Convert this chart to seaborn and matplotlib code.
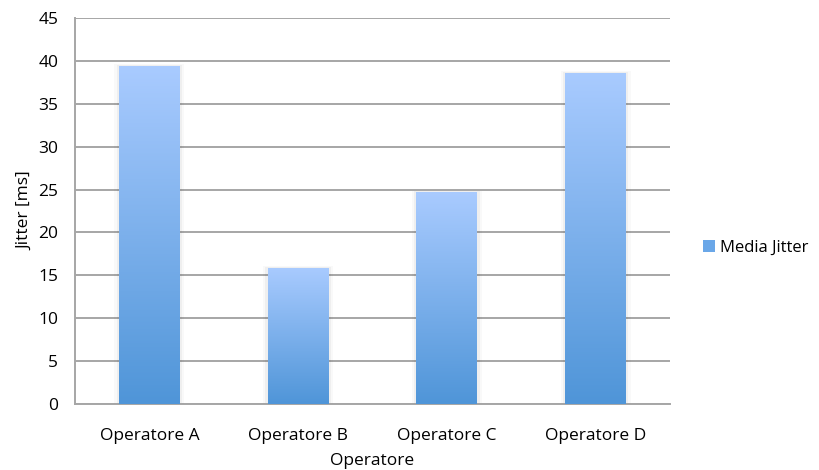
import numpy as np
import pandas as pd
import matplotlib
matplotlib.use("Agg")
import matplotlib.pyplot as plt
import seaborn as sns
from matplotlib.colors import LinearSegmentedColormap
from matplotlib.patches import Patch

categories = ["Operatore A", "Operatore B", "Operatore C", "Operatore D"]
media_jitter = [39.4, 15.9, 24.7, 38.6]
y_ticks = [0, 5, 10, 15, 20, 25, 30, 35, 40, 45]

df = pd.DataFrame({"Operatore": categories, "Media Jitter": media_jitter})

sns.set_style("white")
plt.rcParams["font.family"] = ["Open Sans", "DejaVu Sans"]
plt.rcParams["text.color"] = "black"
plt.rcParams["axes.labelcolor"] = "black"

FS = 12.5

fig = plt.figure(figsize=(8.19, 4.70), dpi=100)
ax = fig.add_axes([75 / 819, 66 / 470, 595 / 819, 386 / 470])

sns.barplot(data=df, x="Operatore", y="Media Jitter", ax=ax, width=0.41,
            color="#6aa7e8", saturation=1, zorder=3)

grad_cmap = LinearSegmentedColormap.from_list("bar_grad", ["#4f95d8", "#a9cbff"])
grad = np.linspace(0, 1, 256).reshape(-1, 1)
for p in ax.patches:
    x0, y0 = p.get_x(), p.get_y()
    w, h = p.get_width(), p.get_height()
    p.set_facecolor("none")
    p.set_edgecolor("none")
    # soft shadow
    for k, a in [(0.03, 0.025), (0.015, 0.04)]:
        ax.add_patch(plt.Rectangle((x0 - k, y0), w + 2 * k, h + k * 6,
                                   facecolor="black", alpha=a, edgecolor="none",
                                   zorder=2.5))
    im = ax.imshow(grad, cmap=grad_cmap, aspect="auto", origin="lower",
                   extent=(x0, x0 + w, y0, y0 + h), zorder=3)
    im.set_clip_path(p)

ax.set_xlim(-0.5, len(categories) - 0.5)
ax.set_ylim(0, 45)
ax.set_yticks(y_ticks)
ax.set_yticklabels([str(t) for t in y_ticks])
ax.yaxis.grid(True, color="#a6a6a6", linewidth=1.4, zorder=0)
ax.set_axisbelow(True)

for s in ["top", "right"]:
    ax.spines[s].set_visible(False)
for s in ["left", "bottom"]:
    ax.spines[s].set_color("#a6a6a6")
    ax.spines[s].set_linewidth(1.4)

ax.set_xticks(np.arange(len(categories)))
ax.set_xticklabels(categories)
ax.set_xticks(np.arange(-0.5, len(categories)), minor=True)
ax.tick_params(axis="x", which="major", length=0, pad=17, labelsize=FS, colors="black")
ax.tick_params(axis="x", which="minor", length=5, width=1.4, color="#a6a6a6", direction="out")
ax.tick_params(axis="y", length=5, width=1.4, color="#a6a6a6", direction="out",
               labelsize=FS, pad=7, labelcolor="black")

ax.set_xlabel("Operatore", fontsize=FS, labelpad=7, color="black")
ax.set_ylabel("Jitter [ms]", fontsize=FS, labelpad=4, color="black")

handle = Patch(facecolor="#6aa7e8", edgecolor="none")
ax.legend([handle], ["Media Jitter"], loc="center left", bbox_to_anchor=(1.038, 0.405),
          frameon=False, fontsize=12, handlelength=0.75, handleheight=0.75,
          handletextpad=0.3, borderaxespad=0.2)

fig.savefig("out.png", dpi=100)
